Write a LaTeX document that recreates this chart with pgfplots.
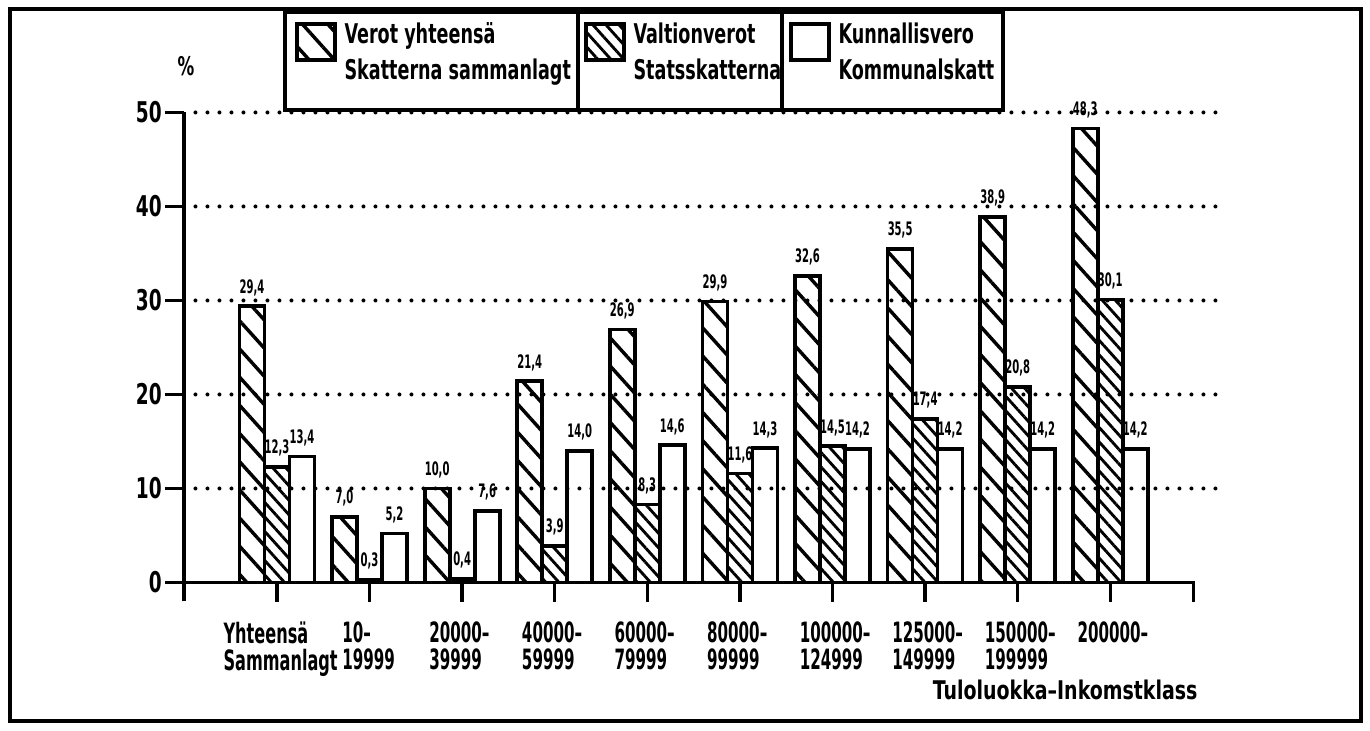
\documentclass[border=0pt]{standalone}
\usepackage{pgfplots}
\pgfplotsset{compat=1.18}
\usetikzlibrary{patterns.meta}
\usepackage{fontspec}
\setmainfont{DejaVu Sans Condensed}[FakeStretch=0.72]
\newfontfamily\labfont{DejaVu Sans Condensed}[FakeStretch=0.64]
\newfontfamily\titfont{DejaVu Sans Condensed}[FakeStretch=0.82]
\newfontfamily\digfont{DejaVu Sans Condensed}[FakeStretch=0.6]
\tikzset{
  patA/.style={pattern={Lines[angle=-48,distance=6.6pt,line width=1.2pt]}},
  patB/.style={pattern={Lines[angle=-48,distance=3.4pt,line width=1pt]}},
}
\newcommand{\lab}{\labfont\fontsize{9.8}{9.6}\bfseries\selectfont}
\newcommand{\dlab}{\digfont\fontsize{9.8}{9.6}\bfseries\selectfont}
\newcommand{\leg}{\fontsize{9.5}{10}\bfseries\selectfont}
\begin{document}
\begin{tikzpicture}[x=0.35pt,y=0.35pt]
\path[use as bounding box] (0,0) rectangle (1370,731);
\draw[line width=1.1pt] (10,10) rectangle (1361,722);
\coordinate (AX) at (184,129.7);
\begin{axis}[
  at={(AX)}, anchor=south west,
  scale only axis, width=363.1pt, height=171.1pt,
  xmin=-1.004, xmax=10.2, ymin=-2, ymax=50,
  axis x line=none, axis y line*=left,
  y axis line style={line width=1.3pt},
  ytick={0,10,20,30,40,50}, yticklabels={0,10,20,30,40,50},
  tick align=outside, major tick length=6.6pt,
  tick style={line width=1.2pt, black},
  yticklabel style={font=\fontsize{10}{11}\bfseries\selectfont, inner sep=1pt},
  ybar, bar width=0.27, clip=false,
  nodes near coords={\pgfmathprintnumber[use comma,fixed,fixed zerofill,precision=1,assume math mode=true]{\pgfplotspointmeta}},
  every node near coord/.append style={font=\digfont\fontsize{6.5}{7}\bfseries\selectfont, inner sep=1pt, yshift=2pt},
]
\addplot[draw=black, line width=1.3pt, bar shift=-0.27, patA] coordinates {
 (0,29.4) (1,7.0) (2,10.0) (3,21.4) (4,26.9) (5,29.9) (6,32.6) (7,35.5) (8,38.9) (9,48.3)};
\addplot[draw=black, line width=1.3pt, bar shift=0, patB] coordinates {
 (0,12.3) (1,0.3) (2,0.4) (3,3.9) (4,8.3) (5,11.6) (6,14.5) (7,17.4) (8,20.8) (9,30.1)};
\addplot[draw=black, line width=1.3pt, bar shift=0.27, fill=white] coordinates {
 (0,13.4) (1,5.2) (2,7.6) (3,14.0) (4,14.6) (5,14.3) (6,14.2) (7,14.2) (8,14.2) (9,14.2)};
% grid lines
\pgfplotsinvokeforeach{10,20,30,40,50}{
  \draw[line width=1.4pt, line cap=round, dash pattern=on 0pt off 4.2pt] (axis cs:-0.88,#1) -- (axis cs:10.2,#1);
}
% x axis
\draw[line width=1.3pt] (axis cs:-1.004,0) -- (axis cs:9.9,0) -- ++(0pt,-7pt);
\pgfplotsinvokeforeach{0,...,9}{\draw[line width=1.2pt] (axis cs:#1,0) -- ++(0pt,-7pt);}
% category labels
\node[anchor=north west, inner sep=0pt, align=left, font=\lab] at (axis cs:-0.583,-4.1) {Yhteensä\\Sammanlagt};
\node[anchor=north west, inner sep=0pt, align=left, font=\dlab] at (axis cs:0.70,-4.1) {10–\\19999};
\node[anchor=north west, inner sep=0pt, align=left, font=\dlab] at (axis cs:1.64,-4.1) {20000–\\39999};
\node[anchor=north west, inner sep=0pt, align=left, font=\dlab] at (axis cs:2.64,-4.1) {40000–\\59999};
\node[anchor=north west, inner sep=0pt, align=left, font=\dlab] at (axis cs:3.64,-4.1) {60000–\\79999};
\node[anchor=north west, inner sep=0pt, align=left, font=\dlab] at (axis cs:4.64,-4.1) {80000–\\99999};
\node[anchor=north west, inner sep=0pt, align=left, font=\dlab] at (axis cs:5.64,-4.1) {100000–\\124999};
\node[anchor=north west, inner sep=0pt, align=left, font=\dlab] at (axis cs:6.64,-4.1) {125000–\\149999};
\node[anchor=north west, inner sep=0pt, align=left, font=\dlab] at (axis cs:7.64,-4.1) {150000–\\199999};
\node[anchor=north west, inner sep=0pt, align=left, font=\dlab] at (axis cs:8.64,-4.1) {200000–};
\end{axis}
% axis titles
\node[anchor=base east, inner sep=0pt, font={\titfont\fontsize{9}{10}\bfseries\selectfont}] at (1198,31) {Tuloluokka–Inkomstklass};
\node[inner sep=0pt, font=\fontsize{9}{10}\bfseries\selectfont] at (186,665) {\%};
% legend
\draw[line width=1.1pt, fill=white] (285,719) rectangle (578,621);
\draw[line width=1.1pt, fill=white] (578,719) rectangle (782,621);
\draw[line width=1.1pt, fill=white] (782,719) rectangle (1003,621);
\draw[line width=1.3pt, patA] (297,707) rectangle (335,671);
\draw[line width=1.3pt, patB] (586,707) rectangle (624,671);
\draw[line width=1.3pt, fill=white] (791,707) rectangle (829,671);
\node[anchor=base west, inner sep=0pt, font=\leg] at (344,687) {Verot yhteensä};
\node[anchor=base west, inner sep=0pt, font=\leg] at (344,651) {Skatterna sammanlagt};
\node[anchor=base west, inner sep=0pt, font=\leg] at (633,687) {Valtionverot};
\node[anchor=base west, inner sep=0pt, font=\leg] at (633,651) {Statsskatterna};
\node[anchor=base west, inner sep=0pt, font=\leg] at (838,687) {Kunnallisvero};
\node[anchor=base west, inner sep=0pt, font=\leg] at (838,651) {Kommunalskatt};
\end{tikzpicture}
\end{document}
